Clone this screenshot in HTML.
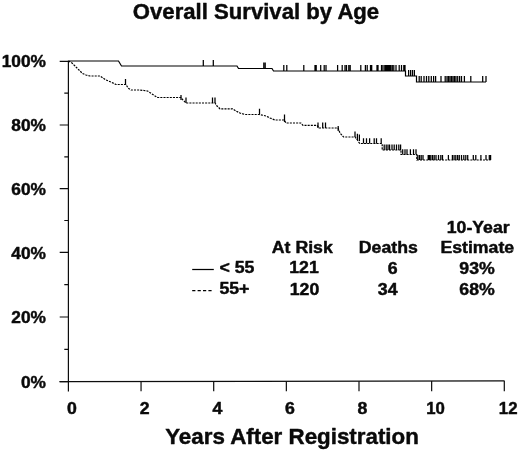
<!DOCTYPE html>
<html><head><meta charset="utf-8"><title>Overall Survival by Age</title>
<style>html,body{margin:0;padding:0;background:#fff;}svg{display:block;}</style></head>
<body>
<svg width="520" height="451" viewBox="0 0 520 451">
<rect width="520" height="451" fill="#fff"/>
<g fill="none" stroke="#0d0d0d" stroke-width="1.2">
<path d="M68.4,60.7 V391.4 M59.5,381.7 L504.6,380.95"/>
<path d="M59.7,61.30 H68.5 M64.3,93.15 H68.5 M59.7,125.00 H68.5 M64.3,156.80 H68.5 M59.7,188.60 H68.5 M64.3,220.50 H68.5 M59.7,252.40 H68.5 M64.3,284.70 H68.5 M59.7,317.00 H68.5 M64.3,349.30 H68.5 M59.7,381.60 H68.5 "/>
<path d="M141.05,381.57 V391.3 M213.70,381.45 V391.3 M286.35,381.32 V391.3 M359.00,381.20 V391.3 M431.65,381.07 V391.3 M504.30,380.95 V391.3 "/>
</g>
<path d="M68.5,61 L118.5,61 L121.5,66 L237,66 L238.5,68.5 L272,68.5 L273.5,71 L405.5,71 L405.5,76 L416.5,76 L416.5,82 L486,82" fill="none" stroke="#000" stroke-width="1.2"/>
<path d="M203.3,66 V60 M213.3,66 V60 M263.8,68.5 V62.5 M265.2,68.5 V62.5 M283.8,71 V65 M286.8,71 V65 M303.8,71 V65 M315,71 V65 M316.2,71 V65 M320.7,71 V65 M324.2,71 V65 M326,71 V65 M337.6,71 V65 M342.2,71 V65 M345,71 V65 M346.5,71 V65 M348.8,71 V65 M350.2,71 V65 M360.8,71 V65 M365.4,71 V65 M367.2,71 V65 M370.5,71 V65 M371.7,71 V65 M377,71 V65 M378,71 V65 M381.5,71 V65 M383,71 V65 M384.8,71 V65 M386,71 V65 M387.2,71 V65 M388.4,71 V65 M389.6,71 V65 M390.8,71 V65 M392.3,71 V65 M393.8,71 V65 M396,71 V65 M399.2,71 V65 M401.5,71 V65 M403.8,71 V65 M405,71 V65 M408.6,76 V70 M410.6,76 V70 M412.5,76 V70 M414.4,76 V70 M419.2,82 V76 M421.2,82 V76 M424,82 V76 M426.5,82 V76 M428.8,82 V76 M431.3,82 V76 M433.6,82 V76 M435.6,82 V76 M441,82 V76 M445.2,82 V76 M447,82 V76 M448.5,82 V76 M450,82 V76 M451.5,82 V76 M453,82 V76 M454.5,82 V76 M456,82 V76 M457.7,82 V76 M459.6,82 V76 M461.5,82 V76 M464.4,82 V76 M470.8,82 V76 M482.7,82 V76 M486,82 V76 " fill="none" stroke="#000" stroke-width="1.25"/>
<path d="M68.5,61 L72,63 L75,66 L78,69 L82.5,73.5 L86,75 L90,76 L100,76 L103,78 L106,80 L111,82 L116,84.5 L126,84.5 L128,88 L131,90 L140,90 L147.5,91 L152,94 L157.5,97.5 L181,97.5 L183,100 L186,103 L215,103 L217,106 L220,108.8 L232.5,108.8 L236,111 L240,113 L245,114.5 L259.5,114.5 L266,116 L270,118 L275,120 L284,120 L286,123 L300.8,123 L303,125.4 L317,125.4 L319,128 L338,128 L340,133 L343.5,137 L355,137 L357.4,140 L359.7,143.5 L382.2,143.5 L382.2,150 L401,150 L401,154.5 L416.8,154.5 L416.8,160 L490.6,160" fill="none" stroke="#000" stroke-width="1.2" stroke-dasharray="2.05,1.1"/>
<path d="M125.5,84.5 V79 M181,100 V95 M186,103 V97.5 M212.5,103 V97.5 M215,103 V97.5 M259.5,114.5 V108.8 M284.5,122 V114.5 M318,128 V122.4 M322.7,128 V122.4 M325.5,128 V122.4 M338.2,131 V126 M355,137 V131.5 M357.4,140 V133.8 M359.4,141 V134.6 M363.5,143.5 V138.3 M366.5,143.5 V138.3 M369.6,143.5 V138.3 M374.2,143.5 V138.3 M376.5,143.5 V138.3 M381.2,143.5 V138.3 M384.2,150 V144.5 M386.2,150 V144.5 M388,150 V144.5 M389.6,150 V144.5 M392,150 V144.5 M394.2,150 V144.5 M396.5,150 V144.5 M398.8,150 V144.5 M400.6,150 V144.5 M402.7,154.5 V149.3 M405,154.5 V149.3 M407,154.5 V149.3 M410.4,154.5 V149.3 M413.5,154.5 V149.3 M416,154.5 V149.3 M417.8,160 V155 M419.5,160 V155 M421.2,160 V155 M423,160 V155 M428.2,160 V155 M429.4,160 V155 M430.8,160 V155 M432.5,160 V155 M434.2,160 V155 M436,160 V155 M438.5,160 V155 M440.8,160 V155 M442.5,160 V155 M448.4,160 V155 M452.4,160 V155 M454.1,160 V155 M455.8,160 V155 M457.6,160 V155 M459.3,160 V155 M461.5,160 V155 M463.8,160 V155 M465.8,160 V155 M467.7,160 V155 M473.3,160 V155 M475.8,160 V155 M480.9,160 V155 M486,160 V155 M489.3,160 V155 M490.6,160 V155 " fill="none" stroke="#000" stroke-width="1.25"/>
<path d="M192.2,269.5 H213.8" fill="none" stroke="#000" stroke-width="1.25"/>
<path d="M192.2,290.7 H212" fill="none" stroke="#000" stroke-width="1.2" stroke-dasharray="3.2,2.2"/>
<g font-family="'Liberation Sans', Arial, sans-serif" font-weight="bold" fill="#0a0a0a" stroke="#0a0a0a" stroke-width="0.45" stroke-linejoin="round">
<text transform="translate(256.0,18.6) scale(1.02,1)" font-size="21.7" text-anchor="middle">Overall Survival by Age</text>
<text transform="translate(292,444.4) scale(0.998,1)" font-size="22.4" text-anchor="middle">Years After Registration</text>
<text transform="translate(46.0,66.9) scale(1.03,1)" font-size="16.8" text-anchor="end">100%</text>
<text transform="translate(46.0,131.2) scale(1.03,1)" font-size="16.8" text-anchor="end">80%</text>
<text transform="translate(46.0,194.8) scale(1.03,1)" font-size="16.8" text-anchor="end">60%</text>
<text transform="translate(46.0,258.6) scale(1.03,1)" font-size="16.8" text-anchor="end">40%</text>
<text transform="translate(46.0,323.2) scale(1.03,1)" font-size="16.8" text-anchor="end">20%</text>
<text transform="translate(46.0,387.8) scale(1.03,1)" font-size="16.8" text-anchor="end">0%</text>
<text transform="translate(72.0,414.1) scale(1.055,1)" font-size="16.8" text-anchor="middle">0</text>
<text transform="translate(144.6,414.1) scale(1.055,1)" font-size="16.8" text-anchor="middle">2</text>
<text transform="translate(217.3,414.1) scale(1.055,1)" font-size="16.8" text-anchor="middle">4</text>
<text transform="translate(289.9,414.1) scale(1.055,1)" font-size="16.8" text-anchor="middle">6</text>
<text transform="translate(362.5,414.1) scale(1.055,1)" font-size="16.8" text-anchor="middle">8</text>
<text transform="translate(435.6,414.1) scale(1.0,1)" font-size="16.8" text-anchor="middle">10</text>
<text transform="translate(508.2,414.1) scale(1.0,1)" font-size="16.8" text-anchor="middle">12</text>
<text transform="translate(302.3,252.7) scale(1.055,1)" font-size="16.8" text-anchor="middle">At Risk</text>
<text transform="translate(388.3,252.9) scale(1.055,1)" font-size="16.8" text-anchor="middle">Deaths</text>
<text transform="translate(478.2,232.7) scale(1.055,1)" font-size="16.8" text-anchor="middle">10-Year</text>
<text transform="translate(477.3,252.9) scale(1.055,1)" font-size="16.8" text-anchor="middle">Estimate</text>
<text transform="translate(219.4,272.9) scale(1.055,1)" font-size="16.8" text-anchor="start">&lt; 55</text>
<text transform="translate(219.4,293.7) scale(1.055,1)" font-size="16.8" text-anchor="start">55+</text>
<text transform="translate(304,273.3) scale(1.055,1)" font-size="16.8" text-anchor="middle">121</text>
<text transform="translate(304.5,294.8) scale(1.055,1)" font-size="16.8" text-anchor="middle">120</text>
<text transform="translate(397.5,273.7) scale(1.055,1)" font-size="16.8" text-anchor="end">6</text>
<text transform="translate(397.5,294.9) scale(1.055,1)" font-size="16.8" text-anchor="end">34</text>
<text transform="translate(477,273.7) scale(1.055,1)" font-size="16.8" text-anchor="middle">93%</text>
<text transform="translate(477,295.1) scale(1.055,1)" font-size="16.8" text-anchor="middle">68%</text>
</g>
</svg>
</body></html>
